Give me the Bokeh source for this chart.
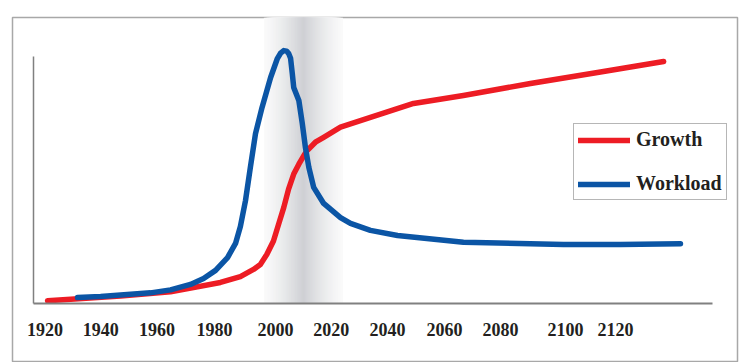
import numpy as np
from bokeh.plotting import figure
from bokeh.models import Range1d, LinearAxis, FixedTicker, Legend, LegendItem
from bokeh.embed import file_html
from bokeh.resources import INLINE

# ---- data ----
growth_years = [1920.9, 1929.0, 1946.5, 1964.0, 1981.5, 1988.5, 1993.1, 1995.5, 1997.8,
                2000.1, 2001.9, 2003.7, 2005.4, 2007.2, 2009.0, 2010.7, 2011.9,
                2014.8, 2017.7, 2023.6, 2034.1, 2049.2,
                2066.7, 2090.2, 2113.7, 2136.9]
growth_vals = [1.1, 1.7, 3.0, 4.7, 8.5, 10.9, 13.8, 15.8, 19.9,
               25.3, 32.1, 38.8, 46.3, 52.4, 56.4, 59.8, 61.9,
               65.3, 67.3, 71.4, 75.4, 81.0,
               84.2, 89.1, 93.5, 98.0]

workload_years = [1931.4, 1939.5, 1946.5, 1957.0, 1964.0, 1971.0, 1975.6, 1979.8, 1984.0,
                  1986.8, 1988.5, 1990.3, 1992.0, 1993.8, 1996.1, 1999.1, 2001.4,
                  2002.6, 2003.7, 2004.7, 2005.4, 2006.1, 2006.7, 2007.2, 2009.0,
                  2010.2, 2011.3, 2012.5, 2014.2, 2017.7, 2023.6, 2027.1, 2034.1,
                  2043.6, 2066.7, 2101.8, 2121.8, 2142.8]
workload_vals = [2.4, 2.8, 3.4, 4.3, 5.5, 7.7, 10.1, 13.4, 18.6,
                 24.3, 31.2, 41.7, 55.1, 68.8, 79.4, 91.5, 99.0,
                 101.4, 102.4, 102.2, 101.3, 99.3, 93.1, 87.5, 82.2,
                 72.9, 63.2, 55.1, 47.0, 40.5, 34.8, 32.4, 29.6,
                 27.5, 24.8, 23.9, 23.9, 24.2]

tick_labels = ["1920", "1940", "1960", "1980", "2000", "2020", "2040",
               "2060", "2080", "2100", "2120"]
tick_positions = [1920.0, 1939.5, 1959.3, 1979.4, 2000.8, 2020.4, 2040.1,
                  2060.1, 2079.7, 2102.5, 2120.0]

band_start, band_peak, band_end = 1995.5, 2010.6, 2025.7
axis_x_bounds = (1916.0, 2154.0)
axis_y_top = 100.0

RED = "#ed1c24"
BLUE = "#0b55a5"
TEXT = "#231f20"

p = figure(width=742, height=362,
           x_range=Range1d(1908.6, 2162.8), y_range=Range1d(-23.9, 115.8),
           output_backend="svg", toolbar_location=None,
           x_axis_location=None, y_axis_location=None,
           min_border_left=12, min_border_right=5, min_border_top=17, min_border_bottom=0)
p.background_fill_color = "white"
p.border_fill_color = "white"
p.outline_line_color = "#a8a8a8"
p.outline_line_width = 1.5
p.xgrid.visible = False
p.ygrid.visible = False

# shaded band: nested, progressively darker and narrower boxes (a soft gradient)
levels = np.linspace(0.03, 1.0, 45)
reach = 1 - levels ** (1 / 1.4)
lefts = band_peak - reach * (band_peak - band_start)
rights = band_peak + reach * (band_end - band_peak)
lefts = np.minimum(lefts, band_peak - 0.25)
rights = np.maximum(rights, band_peak + 0.25)
light = np.array([252, 252, 252])
dark = np.array([207, 208, 212])
cols = ["#%02x%02x%02x" % tuple((light * (1 - k) + dark * k).astype(int)) for k in levels]
p.quad(left=lefts, right=rights, bottom=0, top=p.y_range.end,
       fill_color=cols, line_color=None)

r_g = p.line(growth_years, growth_vals, line_color=RED, line_width=5.5,
             line_join="round", line_cap="round")
r_w = p.line(workload_years, workload_vals, line_color=BLUE, line_width=5.5,
             line_join="round", line_cap="round")

xaxis = LinearAxis(fixed_location=0, bounds=axis_x_bounds,
                   ticker=FixedTicker(ticks=tick_positions),
                   major_label_overrides=dict(zip(tick_positions, tick_labels)))
xaxis.axis_line_color = "#808080"
xaxis.axis_line_width = 2
xaxis.major_tick_line_color = None
xaxis.minor_tick_line_color = None
xaxis.major_label_standoff = 14
xaxis.major_label_text_font = "Liberation Serif"
xaxis.major_label_text_font_style = "bold"
xaxis.major_label_text_font_size = "18px"
xaxis.major_label_text_color = TEXT
p.add_layout(xaxis, "below")

yaxis = LinearAxis(fixed_location=axis_x_bounds[0], bounds=(0, axis_y_top),
                   ticker=FixedTicker(ticks=[]))
yaxis.axis_line_color = "#808080"
yaxis.axis_line_width = 1.5
yaxis.major_tick_line_color = None
yaxis.minor_tick_line_color = None
yaxis.major_label_text_font_size = "0px"
p.add_layout(yaxis, "left")

legend = Legend(items=[LegendItem(label="Growth", renderers=[r_g]),
                       LegendItem(label="Workload", renderers=[r_w])],
                location=(561, 162))
legend.border_line_color = "#6d6d6d"
legend.border_line_width = 1
legend.background_fill_color = "white"
legend.background_fill_alpha = 1
legend.padding = 4
legend.margin = 0
legend.spacing = 21
legend.glyph_width = 52
legend.glyph_height = 20
legend.label_height = 20
legend.label_standoff = 6
legend.label_text_font = "Liberation Serif"
legend.label_text_font_style = "bold"
legend.label_text_font_size = "20px"
legend.label_text_color = TEXT
p.add_layout(legend)

open("out.html", "w").write(file_html(p, INLINE))
